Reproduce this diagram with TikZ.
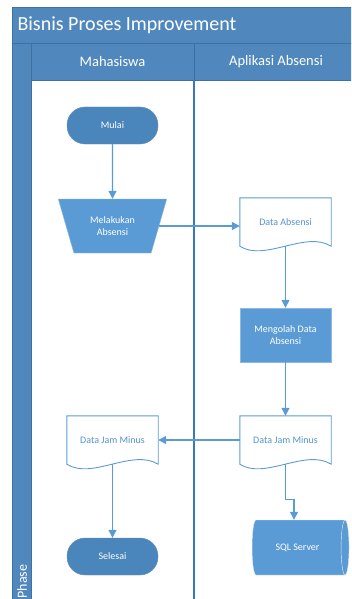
\documentclass[tikz,border=0pt]{standalone}
\usepackage{fontspec}
\setmainfont{Carlito}
\usetikzlibrary{positioning}
\usetikzlibrary{arrows.meta}
\usetikzlibrary{shapes.geometric}
\usetikzlibrary{calc}

\definecolor{lanehead}{RGB}{80,136,190}
\definecolor{laneline}{RGB}{62,112,160}
\definecolor{lanediv}{RGB}{56,120,190}
\definecolor{boxfill}{RGB}{91,155,213}
\definecolor{termfill}{RGB}{74,134,188}
\definecolor{flowline}{RGB}{91,155,213}
\definecolor{doctext}{RGB}{84,146,206}

% document shape: straight top and sides, wavy bottom
\newcommand{\docoutline}[1]{%
  \draw[docline] (#1.south west) -- (#1.north west) -- (#1.north east) -- (#1.south east)
    .. controls +(-26,-16) and +(25,16) .. (#1.south west) -- cycle;}

\begin{document}
\begin{tikzpicture}[x=1pt, y=-1pt,
    termnode/.style={rectangle, rounded corners=18pt, fill=termfill, draw=laneline!80,
      minimum width=91pt, minimum height=37pt, text=white, font=\fontsize{10}{12}\selectfont},
    procnode/.style={rectangle, fill=boxfill, draw=boxfill!70!white,
      minimum width=91pt, minimum height=54pt, text=white, align=center,
      font=\fontsize{10}{12}\selectfont},
    manualnode/.style={trapezium, shape border rotate=180, trapezium stretches=true,
      trapezium left angle=68, trapezium right angle=68, fill=boxfill, draw=boxfill!70!white,
      minimum width=109pt, minimum height=54pt, text=white, align=center,
      font=\fontsize{10}{12}\selectfont},
    docnode/.style={rectangle, minimum width=91pt, minimum height=48pt,
      text=doctext, font=\fontsize{10}{12}\selectfont},
    docline/.style={draw=flowline, line width=0.9pt},
    dbnode/.style={cylinder, shape border rotate=0, aspect=0.55, cylinder uses custom fill,
      cylinder body fill=boxfill, cylinder end fill=boxfill, draw=white!75!boxfill,
      minimum width=55pt, minimum height=97pt, text=white, font=\fontsize{10}{12}\selectfont},
    flow/.style={draw=flowline, line width=1.2pt, -{Triangle[length=8pt,width=8pt]}},
    lanetext/.style={text=white}
  ]
  \useasboundingbox (0,0) rectangle (351,599);
  \clip (0,0) rectangle (351,599);

  % Pool and lanes
  \fill[lanehead] (12,7) rectangle (362,43);
  \fill[lanehead] (12,43) rectangle (31,610);
  \fill[lanehead] (31,43) rectangle (362,80);
  \draw[laneline, line width=0.8pt] (12,610) -- (12,7) -- (362,7);
  \draw[laneline, line width=0.8pt] (12,43) -- (362,43);
  \draw[laneline, line width=0.8pt] (31,80) -- (362,80);
  \draw[laneline, line width=0.8pt] (31,43) -- (31,610);
  \draw[laneline, line width=0.8pt] (194,43) -- (194,80);
  \draw[lanediv, line width=1.2pt] (194,80) -- (194,610);

  \node[lanetext, anchor=west, font=\fontsize{20}{24}\selectfont] (judul) at (14,25) {Bisnis Proses Improvement};
  \node[lanetext, font=\fontsize{14.5}{17}\selectfont] (mhs) at (112.5,62) {Mahasiswa};
  \node[lanetext, font=\fontsize{14.5}{17}\selectfont] (app) at (276,62) {Aplikasi Absensi};
  \node[lanetext, rotate=90, anchor=west, font=\fontsize{14}{16}\selectfont] (fase) at (22,602) {Phase};

  % Mahasiswa lane
  \node[termnode] (mulai) at (112.5,125.5) {Mulai};
  \node[manualnode] (absen) at (112.5,226) {Melakukan\\Absensi};
  \node[docnode] (jamkiri) at (112.5,440) {Data Jam Minus};
  \node[termnode] (selesai) at (112.5,556.5) {Selesai};

  % Aplikasi Absensi lane
  \node[docnode] (dataabs) at (285.5,222) {Data Absensi};
  \node[procnode] (olah) at (285.5,335) {Mengolah Data\\Absensi};
  \node[docnode] (jamkanan) at (285.5,440) {Data Jam Minus};
  \node[dbnode] (sql) at (297.5,547.5) {SQL Server};

  \docoutline{dataabs}
  \docoutline{jamkiri}
  \docoutline{jamkanan}

  % Flow
  \draw[flow] (mulai) -- (absen);
  \draw[flow] (absen.east) -- (absen.east -| dataabs.west);
  \draw[flow] (dataabs.south) -- (olah);
  \draw[flow] (olah) -- (jamkanan);
  \draw[flow] (jamkanan.west) -- (jamkiri.east);
  \draw[flow] (jamkiri.south) -- (selesai);
  \draw[flow] (jamkanan.south) -- ++(0,35) -| ([xshift=-3.5pt]sql.north);
\end{tikzpicture}
\end{document}
